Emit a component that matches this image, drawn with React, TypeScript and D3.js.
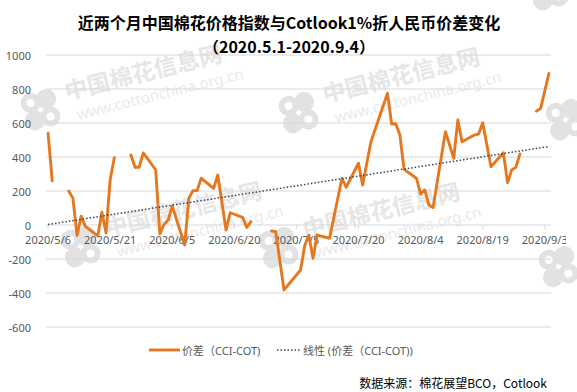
import React from "react";
import * as d3 from "d3";

// --- chart size & layout ---
const W = 577;
const H = 392;
const PLOT = { left: 46, right: 551, top: 55, bottom: 327 };

// --- data: daily spread CCI - Cotlook (yuan/t), null = no data (line break) ---
const DATES = [
  "2020-05-06", "2020-05-07", "2020-05-08",
  "2020-05-11", "2020-05-12", "2020-05-13", "2020-05-14", "2020-05-15",
  "2020-05-18", "2020-05-19", "2020-05-20", "2020-05-21", "2020-05-22",
  "2020-05-25",
  "2020-05-26", "2020-05-27", "2020-05-28", "2020-05-29",
  "2020-06-01", "2020-06-02", "2020-06-03", "2020-06-04", "2020-06-05",
  "2020-06-08", "2020-06-09", "2020-06-10", "2020-06-11", "2020-06-12",
  "2020-06-15", "2020-06-16", "2020-06-18", "2020-06-19",
  "2020-06-22", "2020-06-23", "2020-06-24",
  "2020-06-26",
  "2020-06-29", "2020-06-30", "2020-07-02",
  "2020-07-06", "2020-07-07", "2020-07-08", "2020-07-09", "2020-07-10",
  "2020-07-13", "2020-07-16", "2020-07-17",
  "2020-07-20", "2020-07-21", "2020-07-23",
  "2020-07-27", "2020-07-28", "2020-07-29", "2020-07-30", "2020-07-31",
  "2020-08-03", "2020-08-04", "2020-08-05", "2020-08-06", "2020-08-07",
  "2020-08-10", "2020-08-12", "2020-08-13", "2020-08-14",
  "2020-08-17", "2020-08-18", "2020-08-19", "2020-08-21",
  "2020-08-24", "2020-08-25", "2020-08-26", "2020-08-27", "2020-08-28",
  "2020-08-31",
  "2020-09-01", "2020-09-02", "2020-09-04",
];
const SPREAD: (number | null)[] = [
  540, 260, null,
  200, 158, -62, 52, -8,
  -64, 75, -47, 265, 396,
  null,
  412, 340, 340, 424,
  325, -52, 3, 29, 112,
  -118, 157, 202, 202, 275,
  216, 294, -29, 72,
  45, -14, 20,
  null,
  -35, -39, -382,
  -265, -122, -59, -196, -59,
  -78, 275, 222,
  363, 235, 490,
  775, 594, 596, 529, 327,
  275, 182, 206, 118, 102,
  549, 392, 618, 490,
  529, 535, 602, 343,
  425, 249, 324, 339, 418,
  null,
  670, 686, 892,
];

// linear trendline as shown in the chart (value at first and last date)
const TREND_DATES = ["2020-05-06", "2020-09-04"];
const TREND_VALUES = [3, 462];

const Y_TICKS = [-600, -400, -200, 0, 200, 400, 600, 800, 1000];
const X_TICK_START = "2020-05-06";
const X_TICK_STEP_DAYS = 15;

const TITLE = "近两个月中国棉花价格指数与Cotlook1%折人民币价差变化";
const SUBTITLE = "（2020.5.1-2020.9.4）";
const SERIES_NAME = "价差（CCI-COT)";
const TREND_NAME = "线性 (价差（CCI-COT))";
const SOURCE = "数据来源：棉花展望BCO，Cotlook";

// --- styles ---
const ORANGE = "#E5781F";
const TREND = "#2E4563";
const GRID = "#D9D9D9";
const AXIS_TEXT = "#595959";
const FONT = "'Noto Sans', 'Noto Sans CJK SC', sans-serif";
const CJK = "'Noto Sans CJK SC', sans-serif";

const parse = d3.timeParse("%Y-%m-%d");

// faint site watermark tiles (origin = start of the chinese text baseline)
const MARKS = [[67, 100], [325, 103], [107, 237], [305, 238]];
// tiles whose text falls outside the picture: only the logo shows
const MARK_LOGOS = [[592, 110], [585, 257], [30, -37], [345, -32], [575, -20]];

function Logo() {
  return (
    <g transform="translate(-28,2)" fill="#E2E2E2">
      <circle cx={-8} cy={-8} r={10} />
      <circle cx={8} cy={-8} r={10} />
      <circle cx={-8} cy={10} r={10} />
      <circle cx={8} cy={10} r={10} />
      <circle cx={-8} cy={-8} r={4} fill="#fff" />
      <circle cx={8} cy={10} r={4} fill="#fff" />
    </g>
  );
}

function Watermark({ x, y, text }: { x: number; y: number; text: boolean }) {
  return (
    <g transform={`translate(${x},${y}) rotate(-14)`}>
      <Logo />
      {text && (
        <>
          <text x={0} y={0} fontSize={23} fontWeight={700} fontFamily={CJK} fill="#E6E6E6">
            中国棉花信息网
          </text>
          <text x={6} y={22} fontSize={15} fontFamily={FONT} fill="#EAEAEA">
            www.cottonchina.org.cn
          </text>
        </>
      )}
    </g>
  );
}

export default function App() {
  const dates = DATES.map((d) => parse(d) as Date);
  const pts: [Date, number | null][] = dates.map((d, i) => [d, SPREAD[i]]);
  const trend: [Date, number][] = TREND_DATES.map((d, i) => [parse(d) as Date, TREND_VALUES[i]]);

  const x = d3
    .scaleTime()
    .domain([new Date(2020, 4, 5, 12), new Date(2020, 8, 4, 12)])
    .range([PLOT.left, PLOT.right]);
  const y = d3.scaleLinear().domain([-600, 1000]).range([PLOT.bottom, PLOT.top]);

  const line = d3
    .line<[Date, number | null]>()
    .defined((d) => d[1] != null)
    .x((d) => x(d[0]))
    .y((d) => y(d[1] as number));

  const trendLine = d3
    .line<[Date, number]>()
    .x((d) => x(d[0]))
    .y((d) => y(d[1]));

  const xTicks = d3.timeDay.range(
    parse(X_TICK_START) as Date,
    new Date(2020, 8, 5),
    X_TICK_STEP_DAYS
  );
  const fmt = d3.timeFormat("%Y/%-m/%-d");

  return (
    <div style={{ position: "absolute", left: 0, top: 0 }}>
      <svg width={W} height={H} style={{ display: "block", background: "#fff" }}>
        <defs>
          <clipPath id="clipX">
            <rect x={0} y={0} width={566} height={H} />
          </clipPath>
        </defs>

        {MARKS.map(([a, b], i) => (
          <Watermark key={i} x={a} y={b} text />
        ))}
        {MARK_LOGOS.map(([a, b], i) => (
          <Watermark key={"l" + i} x={a} y={b} text={false} />
        ))}

        {/* title */}
        <text x={289} y={22} textAnchor="middle" dominantBaseline="central"
          fontSize={16} fontWeight={700} fontFamily={CJK} fill="#000">
          {TITLE}
        </text>
        <text x={289} y={46} textAnchor="middle" dominantBaseline="central"
          fontSize={16} fontWeight={700} fontFamily={CJK} fill="#000">
          {SUBTITLE}
        </text>

        {/* gridlines + y labels */}
        {Y_TICKS.map((t) => (
          <g key={t}>
            <line x1={PLOT.left} x2={PLOT.right} y1={y(t)} y2={y(t)} stroke={GRID} strokeWidth={1} />
            <text x={31} y={y(t)} textAnchor="end" dominantBaseline="central"
              fontSize={11} fontFamily={FONT} fill={AXIS_TEXT}>
              {t}
            </text>
          </g>
        ))}

        {/* x axis ticks + labels at the zero line */}
        <g clipPath="url(#clipX)">
          {xTicks.map((d, i) => (
            <g key={i}>
              <line x1={x(d)} x2={x(d)} y1={y(0)} y2={y(0) + 4} stroke={GRID} />
              <text x={x(d)} y={239} textAnchor="middle" dominantBaseline="central"
                fontSize={11} fontFamily={FONT} fill={AXIS_TEXT}>
                {fmt(d)}
              </text>
            </g>
          ))}
        </g>

        {/* series */}
        <path d={line(pts) || ""} fill="none" stroke={ORANGE} strokeWidth={2.9}
          strokeLinejoin="round" strokeLinecap="round" />
        <path d={trendLine(trend) || ""} fill="none" stroke={TREND} strokeWidth={1.5}
          strokeDasharray="1.5 2" />

        {/* legend */}
        <line x1={149} x2={180} y1={350} y2={350} stroke={ORANGE} strokeWidth={2.9} />
        <text x={182} y={350} dominantBaseline="central" fontSize={11} fontFamily={FONT} fill={AXIS_TEXT}>
          {SERIES_NAME}
        </text>
        <line x1={277} x2={300} y1={350} y2={350} stroke={TREND} strokeWidth={1.5} strokeDasharray="1.5 2" />
        <text x={303} y={350} dominantBaseline="central" fontSize={11} fontFamily={FONT} fill={AXIS_TEXT}>
          {TREND_NAME}
        </text>

        {/* source */}
        <text x={547} y={382} textAnchor="end" dominantBaseline="central"
          fontSize={12} fontFamily={CJK} fill="#000">
          {SOURCE}
        </text>
      </svg>
    </div>
  );
}
